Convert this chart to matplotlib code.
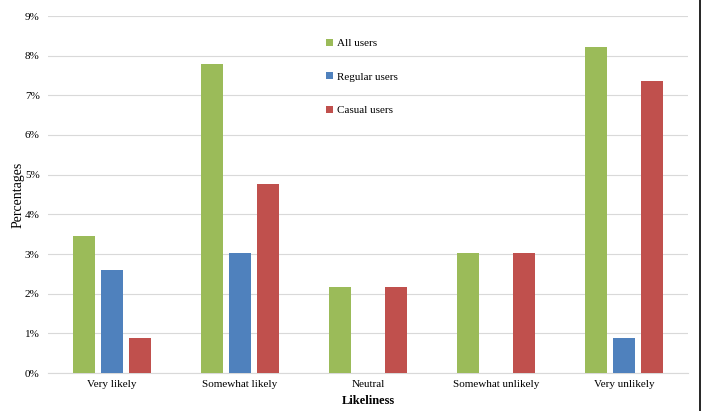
import matplotlib
matplotlib.use("Agg")
import matplotlib.pyplot as plt
import numpy as np
from matplotlib.lines import Line2D
from matplotlib.ticker import FuncFormatter

categories = ["Very likely", "Somewhat likely", "Neutral", "Somewhat unlikely", "Very unlikely"]
all_users = [3.45, 7.79, 2.16, 3.03, 8.22]
regular_users = [2.60, 3.03, 0.0, 0.0, 0.87]
casual_users = [0.87, 4.76, 2.16, 3.03, 7.36]
series_names = ["All users", "Regular users", "Casual users"]
colors = ["#9bbb59", "#4f81bd", "#c0504d"]

plt.rcParams['font.family'] = ['Liberation Serif', 'DejaVu Serif']

fig = plt.figure(figsize=(7.02, 4.11), dpi=100)
ax = fig.add_axes([48/702, 1-373/411, 640/702, 357/411])

x = np.arange(len(categories))
w = 0.172
offs = [-0.219, 0.0, 0.219]
for data, off, c, name in zip([all_users, regular_users, casual_users], offs, colors, series_names):
    ax.bar(x + off, data, width=w, color=c, label=name, zorder=3)

ax.set_xlim(-0.5, 4.5)
ax.set_ylim(0, 9)
ax.set_yticks(np.arange(0, 10, 1))
ax.yaxis.set_major_formatter(FuncFormatter(lambda v, p: f"{int(v)}%"))
ax.set_xticks(x)
ax.set_xticklabels(categories, fontsize=8)
ax.tick_params(axis='y', labelsize=8, length=0, pad=6)
ax.tick_params(axis='x', length=0, pad=5)
ax.grid(axis='y', color='#d9d9d9', linewidth=0.8, zorder=0)
for s in ['top', 'right', 'left']:
    ax.spines[s].set_visible(False)
ax.spines['bottom'].set_color('#d9d9d9')
ax.set_ylabel("Percentages", fontsize=10, labelpad=0)
ax.set_xlabel("Likeliness", fontsize=9, fontweight='bold', labelpad=4)

leg = ax.legend(loc='upper left', bbox_to_anchor=(0.419, 0.964), frameon=False,
                fontsize=8, handlelength=0.6, handleheight=0.6, handletextpad=0.4,
                labelspacing=2.15)

fig.add_artist(Line2D([700/702, 700/702], [0, 1], color='black', linewidth=1.2))

fig.savefig("out.png", dpi=100)
